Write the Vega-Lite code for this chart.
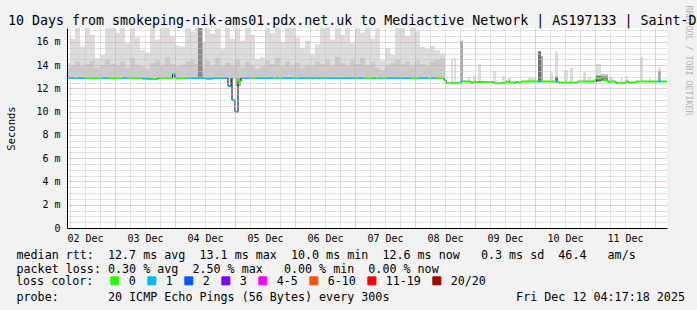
{
  "$schema": "https://vega.github.io/schema/vega-lite/v6.json",
  "width": 600,
  "height": 200,
  "autosize": "none",
  "padding": {"left": 67, "top": 28, "right": 30, "bottom": 82},
  "background": "#f2f2f2",
  "config": {
    "view": {"fill": "#ffffff", "stroke": null},
    "font": "DejaVu Sans Mono",
    "axis": {"domainColor": "#000000", "domainWidth": 1, "labelOverlap": false, "labelBound": false, "labelFlush": false, "ticks": false, "gridDash": [1, 1]}
  },
  "title": {
    "text": "10 Days from smokeping-nik-ams01.pdx.net.uk to Mediactive Network | AS197133 | Saint-Denis",
    "anchor": "start", "frame": "group", "dx": -59, "dy": 37, "offset": 4, "baseline": "alphabetic",
    "font": "DejaVu Sans Mono", "fontSize": 13.3, "fontWeight": "normal", "color": "#000000"
  },
  "datasets": {
    "smoke": [
      {"t":"2025-12-02T04:48:00Z","t2":"2025-12-02T06:00:00Z","h":14.2,"m":13.7},
      {"t":"2025-12-02T06:00:00Z","t2":"2025-12-02T08:00:00Z","h":16.3,"m":14.0},
      {"t":"2025-12-02T08:00:00Z","t2":"2025-12-02T10:00:00Z","h":17.2,"m":14.3},
      {"t":"2025-12-02T10:00:00Z","t2":"2025-12-02T12:00:00Z","h":15.6,"m":13.9},
      {"t":"2025-12-02T12:00:00Z","t2":"2025-12-02T14:00:00Z","h":17.2,"m":14.1},
      {"t":"2025-12-02T14:00:00Z","t2":"2025-12-02T16:00:00Z","h":16.6,"m":14.4},
      {"t":"2025-12-02T16:00:00Z","t2":"2025-12-02T18:00:00Z","h":14.6,"m":13.8},
      {"t":"2025-12-02T18:00:00Z","t2":"2025-12-02T20:00:00Z","h":14.9,"m":14.0},
      {"t":"2025-12-02T20:00:00Z","t2":"2025-12-02T22:00:00Z","h":17.2,"m":14.5},
      {"t":"2025-12-02T22:00:00Z","t2":"2025-12-03T00:00:00Z","h":17.2,"m":14.1},
      {"t":"2025-12-03T00:00:00Z","t2":"2025-12-03T02:00:00Z","h":16.8,"m":14.0},
      {"t":"2025-12-03T02:00:00Z","t2":"2025-12-03T04:00:00Z","h":17.2,"m":14.3},
      {"t":"2025-12-03T04:00:00Z","t2":"2025-12-03T06:00:00Z","h":15.9,"m":13.8},
      {"t":"2025-12-03T06:00:00Z","t2":"2025-12-03T08:00:00Z","h":17.2,"m":14.6},
      {"t":"2025-12-03T08:00:00Z","t2":"2025-12-03T10:00:00Z","h":16.4,"m":14.0},
      {"t":"2025-12-03T10:00:00Z","t2":"2025-12-03T12:00:00Z","h":15.3,"m":13.9},
      {"t":"2025-12-03T12:00:00Z","t2":"2025-12-03T14:00:00Z","h":15.1,"m":13.7},
      {"t":"2025-12-03T14:00:00Z","t2":"2025-12-03T16:00:00Z","h":17.2,"m":14.2},
      {"t":"2025-12-03T16:00:00Z","t2":"2025-12-03T18:00:00Z","h":16.2,"m":14.4},
      {"t":"2025-12-03T18:00:00Z","t2":"2025-12-03T20:00:00Z","h":17.2,"m":14.0},
      {"t":"2025-12-03T20:00:00Z","t2":"2025-12-03T22:00:00Z","h":17.2,"m":14.7},
      {"t":"2025-12-03T22:00:00Z","t2":"2025-12-04T00:00:00Z","h":16.5,"m":14.1},
      {"t":"2025-12-04T00:00:00Z","t2":"2025-12-04T02:00:00Z","h":15.7,"m":13.9},
      {"t":"2025-12-04T02:00:00Z","t2":"2025-12-04T04:00:00Z","h":15.6,"m":14.0},
      {"t":"2025-12-04T04:00:00Z","t2":"2025-12-04T06:00:00Z","h":17.2,"m":14.3},
      {"t":"2025-12-04T06:00:00Z","t2":"2025-12-04T08:00:00Z","h":16.9,"m":14.5},
      {"t":"2025-12-04T08:00:00Z","t2":"2025-12-04T10:00:00Z","h":17.2,"m":14.1},
      {"t":"2025-12-04T10:00:00Z","t2":"2025-12-04T12:00:00Z","h":16.0,"m":13.8},
      {"t":"2025-12-04T12:00:00Z","t2":"2025-12-04T14:00:00Z","h":17.2,"m":14.4},
      {"t":"2025-12-04T14:00:00Z","t2":"2025-12-04T16:00:00Z","h":16.7,"m":14.0},
      {"t":"2025-12-04T16:00:00Z","t2":"2025-12-04T18:00:00Z","h":17.2,"m":14.6},
      {"t":"2025-12-04T18:00:00Z","t2":"2025-12-04T20:00:00Z","h":15.4,"m":13.9},
      {"t":"2025-12-04T20:00:00Z","t2":"2025-12-04T22:00:00Z","h":17.2,"m":14.2},
      {"t":"2025-12-04T22:00:00Z","t2":"2025-12-05T00:00:00Z","h":16.3,"m":14.0},
      {"t":"2025-12-05T00:00:00Z","t2":"2025-12-05T02:00:00Z","h":17.2,"m":14.5},
      {"t":"2025-12-05T02:00:00Z","t2":"2025-12-05T04:00:00Z","h":16.1,"m":13.8},
      {"t":"2025-12-05T04:00:00Z","t2":"2025-12-05T06:00:00Z","h":17.2,"m":14.3},
      {"t":"2025-12-05T06:00:00Z","t2":"2025-12-05T08:00:00Z","h":16.6,"m":14.0},
      {"t":"2025-12-05T08:00:00Z","t2":"2025-12-05T10:00:00Z","h":14.5,"m":13.7},
      {"t":"2025-12-05T10:00:00Z","t2":"2025-12-05T12:00:00Z","h":14.7,"m":13.9},
      {"t":"2025-12-05T12:00:00Z","t2":"2025-12-05T14:00:00Z","h":17.2,"m":14.4},
      {"t":"2025-12-05T14:00:00Z","t2":"2025-12-05T16:00:00Z","h":16.8,"m":14.1},
      {"t":"2025-12-05T16:00:00Z","t2":"2025-12-05T18:00:00Z","h":17.2,"m":14.6},
      {"t":"2025-12-05T18:00:00Z","t2":"2025-12-05T20:00:00Z","h":16.0,"m":13.9},
      {"t":"2025-12-05T20:00:00Z","t2":"2025-12-05T22:00:00Z","h":17.2,"m":14.3},
      {"t":"2025-12-05T22:00:00Z","t2":"2025-12-06T00:00:00Z","h":17.2,"m":14.0},
      {"t":"2025-12-06T00:00:00Z","t2":"2025-12-06T02:00:00Z","h":16.4,"m":14.2},
      {"t":"2025-12-06T02:00:00Z","t2":"2025-12-06T04:00:00Z","h":15.5,"m":13.8},
      {"t":"2025-12-06T04:00:00Z","t2":"2025-12-06T06:00:00Z","h":16.1,"m":14.0},
      {"t":"2025-12-06T06:00:00Z","t2":"2025-12-06T08:00:00Z","h":15.0,"m":13.9},
      {"t":"2025-12-06T08:00:00Z","t2":"2025-12-06T10:00:00Z","h":15.8,"m":14.3},
      {"t":"2025-12-06T10:00:00Z","t2":"2025-12-06T12:00:00Z","h":17.2,"m":14.1},
      {"t":"2025-12-06T12:00:00Z","t2":"2025-12-06T14:00:00Z","h":17.2,"m":14.5},
      {"t":"2025-12-06T14:00:00Z","t2":"2025-12-06T16:00:00Z","h":16.2,"m":14.0},
      {"t":"2025-12-06T16:00:00Z","t2":"2025-12-06T18:00:00Z","h":17.2,"m":14.7},
      {"t":"2025-12-06T18:00:00Z","t2":"2025-12-06T20:00:00Z","h":16.6,"m":14.2},
      {"t":"2025-12-06T20:00:00Z","t2":"2025-12-06T22:00:00Z","h":17.2,"m":13.9},
      {"t":"2025-12-06T22:00:00Z","t2":"2025-12-07T00:00:00Z","h":15.9,"m":14.4},
      {"t":"2025-12-07T00:00:00Z","t2":"2025-12-07T02:00:00Z","h":17.2,"m":14.1},
      {"t":"2025-12-07T02:00:00Z","t2":"2025-12-07T04:00:00Z","h":16.8,"m":14.6},
      {"t":"2025-12-07T04:00:00Z","t2":"2025-12-07T06:00:00Z","h":17.2,"m":14.0},
      {"t":"2025-12-07T06:00:00Z","t2":"2025-12-07T08:00:00Z","h":16.3,"m":14.3},
      {"t":"2025-12-07T08:00:00Z","t2":"2025-12-07T10:00:00Z","h":17.2,"m":13.8},
      {"t":"2025-12-07T10:00:00Z","t2":"2025-12-07T12:00:00Z","h":14.4,"m":13.6},
      {"t":"2025-12-07T12:00:00Z","t2":"2025-12-07T14:00:00Z","h":15.5,"m":14.0},
      {"t":"2025-12-07T14:00:00Z","t2":"2025-12-07T16:00:00Z","h":14.9,"m":14.2},
      {"t":"2025-12-07T16:00:00Z","t2":"2025-12-07T18:00:00Z","h":17.2,"m":14.5},
      {"t":"2025-12-07T18:00:00Z","t2":"2025-12-07T20:00:00Z","h":17.2,"m":14.1},
      {"t":"2025-12-07T20:00:00Z","t2":"2025-12-07T22:00:00Z","h":16.5,"m":14.3},
      {"t":"2025-12-07T22:00:00Z","t2":"2025-12-08T00:00:00Z","h":17.2,"m":14.0},
      {"t":"2025-12-08T00:00:00Z","t2":"2025-12-08T02:00:00Z","h":16.9,"m":14.4},
      {"t":"2025-12-08T02:00:00Z","t2":"2025-12-08T04:00:00Z","h":15.6,"m":14.1},
      {"t":"2025-12-08T04:00:00Z","t2":"2025-12-08T06:00:00Z","h":15.4,"m":14.0},
      {"t":"2025-12-08T06:00:00Z","t2":"2025-12-08T08:00:00Z","h":15.7,"m":14.3},
      {"t":"2025-12-08T08:00:00Z","t2":"2025-12-08T10:00:00Z","h":15.3,"m":14.5},
      {"t":"2025-12-08T10:00:00Z","t2":"2025-12-08T12:00:00Z","h":15.0,"m":14.6}
    ],
    "extra": [
      {"t":"2025-12-04T09:12:00Z","t2":"2025-12-04T11:00:00Z","lo":12.9,"hi":17.2,"s":"d2"},
      {"t":"2025-12-05T00:24:00Z","t2":"2025-12-05T02:24:00Z","lo":12.2,"hi":12.9,"s":"d1"},
      {"t":"2025-12-08T14:24:00Z","t2":"2025-12-08T15:12:00Z","lo":12.5,"hi":14.6,"s":"light"},
      {"t":"2025-12-08T15:36:00Z","t2":"2025-12-08T16:24:00Z","lo":12.5,"hi":14.6,"s":"light"},
      {"t":"2025-12-08T18:00:00Z","t2":"2025-12-08T19:12:00Z","lo":12.55,"hi":16.1,"s":"d1"},
      {"t":"2025-12-08T21:12:00Z","t2":"2025-12-08T22:00:00Z","lo":12.5,"hi":13.0,"s":"light"},
      {"t":"2025-12-08T23:12:00Z","t2":"2025-12-09T00:24:00Z","lo":12.5,"hi":13.1,"s":"light"},
      {"t":"2025-12-09T01:12:00Z","t2":"2025-12-09T02:24:00Z","lo":12.5,"hi":14.1,"s":"light"},
      {"t":"2025-12-09T07:12:00Z","t2":"2025-12-09T08:24:00Z","lo":12.45,"hi":13.5,"s":"light"},
      {"t":"2025-12-09T10:48:00Z","t2":"2025-12-09T12:00:00Z","lo":12.45,"hi":13.1,"s":"light"},
      {"t":"2025-12-09T13:12:00Z","t2":"2025-12-09T14:24:00Z","lo":12.5,"hi":12.9,"s":"light"},
      {"t":"2025-12-09T21:12:00Z","t2":"2025-12-10T00:24:00Z","lo":12.55,"hi":12.9,"s":"light"},
      {"t":"2025-12-10T01:12:00Z","t2":"2025-12-10T02:24:00Z","lo":12.6,"hi":15.2,"s":"d3"},
      {"t":"2025-12-10T02:24:00Z","t2":"2025-12-10T03:12:00Z","lo":12.6,"hi":14.8,"s":"d1"},
      {"t":"2025-12-10T06:00:00Z","t2":"2025-12-10T07:12:00Z","lo":12.6,"hi":13.4,"s":"light"},
      {"t":"2025-12-10T08:00:00Z","t2":"2025-12-10T09:12:00Z","lo":12.6,"hi":15.2,"s":"light"},
      {"t":"2025-12-10T08:00:00Z","t2":"2025-12-10T09:12:00Z","lo":12.55,"hi":13.0,"s":"d3"},
      {"t":"2025-12-10T11:36:00Z","t2":"2025-12-10T13:12:00Z","lo":12.5,"hi":13.6,"s":"light"},
      {"t":"2025-12-10T14:00:00Z","t2":"2025-12-10T15:12:00Z","lo":12.5,"hi":13.8,"s":"light"},
      {"t":"2025-12-10T19:12:00Z","t2":"2025-12-10T20:24:00Z","lo":12.6,"hi":13.4,"s":"light"},
      {"t":"2025-12-10T21:12:00Z","t2":"2025-12-10T22:24:00Z","lo":12.6,"hi":13.0,"s":"light"},
      {"t":"2025-12-11T00:24:00Z","t2":"2025-12-11T02:24:00Z","lo":12.6,"hi":14.1,"s":"light"},
      {"t":"2025-12-11T00:24:00Z","t2":"2025-12-11T02:24:00Z","lo":12.6,"hi":13.1,"s":"d3"},
      {"t":"2025-12-11T02:24:00Z","t2":"2025-12-11T05:12:00Z","lo":12.65,"hi":13.25,"s":"mid"},
      {"t":"2025-12-11T02:24:00Z","t2":"2025-12-11T05:12:00Z","lo":12.65,"hi":13.05,"s":"d2"},
      {"t":"2025-12-11T05:36:00Z","t2":"2025-12-11T07:12:00Z","lo":12.5,"hi":13.0,"s":"light"},
      {"t":"2025-12-11T10:24:00Z","t2":"2025-12-11T11:12:00Z","lo":12.45,"hi":12.9,"s":"light"},
      {"t":"2025-12-11T12:24:00Z","t2":"2025-12-11T13:12:00Z","lo":12.5,"hi":13.1,"s":"light"},
      {"t":"2025-12-11T18:00:00Z","t2":"2025-12-11T19:12:00Z","lo":12.6,"hi":14.7,"s":"light"},
      {"t":"2025-12-11T21:36:00Z","t2":"2025-12-11T22:24:00Z","lo":12.6,"hi":12.9,"s":"light"},
      {"t":"2025-12-12T01:12:00Z","t2":"2025-12-12T02:24:00Z","lo":12.6,"hi":13.8,"s":"light"},
      {"t":"2025-12-12T01:12:00Z","t2":"2025-12-12T02:24:00Z","lo":12.6,"hi":13.5,"s":"d1"}
    ],
    "median": [
      {"t":"2025-12-02T04:48:00Z","t2":"2025-12-02T08:00:00Z","v":12.9,"loss":"1"},
      {"t":"2025-12-02T08:00:00Z","t2":"2025-12-02T09:00:00Z","v":12.9,"loss":"0"},
      {"t":"2025-12-02T09:00:00Z","t2":"2025-12-02T12:00:00Z","v":12.9,"loss":"1"},
      {"t":"2025-12-02T12:00:00Z","t2":"2025-12-02T19:00:00Z","v":12.9,"loss":"0"},
      {"t":"2025-12-02T19:00:00Z","t2":"2025-12-02T21:00:00Z","v":12.9,"loss":"1"},
      {"t":"2025-12-02T21:00:00Z","t2":"2025-12-03T03:00:00Z","v":12.9,"loss":"0"},
      {"t":"2025-12-03T03:00:00Z","t2":"2025-12-03T05:00:00Z","v":12.9,"loss":"1"},
      {"t":"2025-12-03T05:00:00Z","t2":"2025-12-03T11:00:00Z","v":12.9,"loss":"0"},
      {"t":"2025-12-03T11:00:00Z","t2":"2025-12-03T14:00:00Z","v":12.85,"loss":"1"},
      {"t":"2025-12-03T14:00:00Z","t2":"2025-12-03T17:00:00Z","v":12.8,"loss":"0"},
      {"t":"2025-12-03T17:00:00Z","t2":"2025-12-03T23:00:00Z","v":12.9,"loss":"0"},
      {"t":"2025-12-03T23:00:00Z","t2":"2025-12-04T00:00:00Z","v":13.2,"loss":"1"},
      {"t":"2025-12-04T00:00:00Z","t2":"2025-12-04T05:00:00Z","v":12.9,"loss":"0"},
      {"t":"2025-12-04T05:00:00Z","t2":"2025-12-04T12:00:00Z","v":12.9,"loss":"1"},
      {"t":"2025-12-04T12:00:00Z","t2":"2025-12-04T15:00:00Z","v":12.85,"loss":"1"},
      {"t":"2025-12-04T15:00:00Z","t2":"2025-12-04T21:12:00Z","v":12.9,"loss":"1"},
      {"t":"2025-12-04T21:12:00Z","t2":"2025-12-04T22:24:00Z","v":12.2,"loss":"1"},
      {"t":"2025-12-04T22:24:00Z","t2":"2025-12-04T22:48:00Z","v":12.9,"loss":"1"},
      {"t":"2025-12-04T22:48:00Z","t2":"2025-12-05T00:00:00Z","v":11.0,"loss":"1"},
      {"t":"2025-12-05T00:00:00Z","t2":"2025-12-05T01:12:00Z","v":10.0,"loss":"1"},
      {"t":"2025-12-05T01:12:00Z","t2":"2025-12-05T02:24:00Z","v":12.6,"loss":"0"},
      {"t":"2025-12-05T02:24:00Z","t2":"2025-12-05T06:24:00Z","v":12.9,"loss":"1"},
      {"t":"2025-12-05T06:24:00Z","t2":"2025-12-05T08:24:00Z","v":12.9,"loss":"0"},
      {"t":"2025-12-05T08:24:00Z","t2":"2025-12-05T15:12:00Z","v":12.9,"loss":"1"},
      {"t":"2025-12-05T15:12:00Z","t2":"2025-12-05T16:24:00Z","v":12.9,"loss":"0"},
      {"t":"2025-12-05T16:24:00Z","t2":"2025-12-05T17:12:00Z","v":12.9,"loss":"1"},
      {"t":"2025-12-05T17:12:00Z","t2":"2025-12-05T18:24:00Z","v":12.9,"loss":"0"},
      {"t":"2025-12-05T18:24:00Z","t2":"2025-12-06T00:24:00Z","v":12.9,"loss":"1"},
      {"t":"2025-12-06T00:24:00Z","t2":"2025-12-06T01:00:00Z","v":12.9,"loss":"0"},
      {"t":"2025-12-06T01:00:00Z","t2":"2025-12-06T04:24:00Z","v":12.9,"loss":"1"},
      {"t":"2025-12-06T04:24:00Z","t2":"2025-12-06T05:00:00Z","v":12.9,"loss":"0"},
      {"t":"2025-12-06T05:00:00Z","t2":"2025-12-06T07:36:00Z","v":12.9,"loss":"1"},
      {"t":"2025-12-06T07:36:00Z","t2":"2025-12-06T08:12:00Z","v":12.9,"loss":"0"},
      {"t":"2025-12-06T08:12:00Z","t2":"2025-12-06T10:48:00Z","v":12.9,"loss":"1"},
      {"t":"2025-12-06T10:48:00Z","t2":"2025-12-06T11:24:00Z","v":12.9,"loss":"0"},
      {"t":"2025-12-06T11:24:00Z","t2":"2025-12-07T00:24:00Z","v":12.9,"loss":"1"},
      {"t":"2025-12-07T00:24:00Z","t2":"2025-12-07T01:00:00Z","v":12.9,"loss":"0"},
      {"t":"2025-12-07T01:00:00Z","t2":"2025-12-07T03:12:00Z","v":12.9,"loss":"1"},
      {"t":"2025-12-07T03:12:00Z","t2":"2025-12-07T07:12:00Z","v":12.9,"loss":"0"},
      {"t":"2025-12-07T07:12:00Z","t2":"2025-12-07T08:24:00Z","v":12.9,"loss":"1"},
      {"t":"2025-12-07T08:24:00Z","t2":"2025-12-07T09:36:00Z","v":12.9,"loss":"0"},
      {"t":"2025-12-07T09:36:00Z","t2":"2025-12-07T10:24:00Z","v":12.9,"loss":"1"},
      {"t":"2025-12-07T10:24:00Z","t2":"2025-12-07T12:24:00Z","v":12.9,"loss":"0"},
      {"t":"2025-12-07T12:24:00Z","t2":"2025-12-07T22:24:00Z","v":12.9,"loss":"1"},
      {"t":"2025-12-07T22:24:00Z","t2":"2025-12-08T01:12:00Z","v":12.9,"loss":"0"},
      {"t":"2025-12-08T01:12:00Z","t2":"2025-12-08T05:12:00Z","v":12.9,"loss":"1"},
      {"t":"2025-12-08T05:12:00Z","t2":"2025-12-08T06:24:00Z","v":12.9,"loss":"0"},
      {"t":"2025-12-08T06:24:00Z","t2":"2025-12-08T08:24:00Z","v":12.9,"loss":"1"},
      {"t":"2025-12-08T08:24:00Z","t2":"2025-12-08T11:12:00Z","v":12.9,"loss":"0"},
      {"t":"2025-12-08T11:12:00Z","t2":"2025-12-08T11:48:00Z","v":12.8,"loss":"0"},
      {"t":"2025-12-08T11:48:00Z","t2":"2025-12-08T12:24:00Z","v":12.7,"loss":"0"},
      {"t":"2025-12-08T12:24:00Z","t2":"2025-12-08T18:24:00Z","v":12.45,"loss":"0"},
      {"t":"2025-12-08T18:24:00Z","t2":"2025-12-08T19:12:00Z","v":12.6,"loss":"1"},
      {"t":"2025-12-08T19:12:00Z","t2":"2025-12-08T22:24:00Z","v":12.6,"loss":"0"},
      {"t":"2025-12-08T22:24:00Z","t2":"2025-12-08T23:12:00Z","v":12.45,"loss":"0"},
      {"t":"2025-12-08T23:12:00Z","t2":"2025-12-09T07:36:00Z","v":12.55,"loss":"0"},
      {"t":"2025-12-09T07:36:00Z","t2":"2025-12-09T12:24:00Z","v":12.45,"loss":"0"},
      {"t":"2025-12-09T12:24:00Z","t2":"2025-12-09T13:43:00Z","v":12.6,"loss":"0"},
      {"t":"2025-12-09T13:43:00Z","t2":"2025-12-09T16:24:00Z","v":12.5,"loss":"0"},
      {"t":"2025-12-09T16:24:00Z","t2":"2025-12-09T17:36:00Z","v":12.55,"loss":"0"},
      {"t":"2025-12-09T17:36:00Z","t2":"2025-12-09T18:24:00Z","v":12.45,"loss":"0"},
      {"t":"2025-12-09T18:24:00Z","t2":"2025-12-10T01:12:00Z","v":12.6,"loss":"0"},
      {"t":"2025-12-10T01:12:00Z","t2":"2025-12-10T02:24:00Z","v":12.6,"loss":"1"},
      {"t":"2025-12-10T02:24:00Z","t2":"2025-12-10T08:24:00Z","v":12.6,"loss":"0"},
      {"t":"2025-12-10T08:24:00Z","t2":"2025-12-10T09:12:00Z","v":12.6,"loss":"1"},
      {"t":"2025-12-10T09:12:00Z","t2":"2025-12-10T17:12:00Z","v":12.5,"loss":"0"},
      {"t":"2025-12-10T17:12:00Z","t2":"2025-12-11T00:24:00Z","v":12.6,"loss":"0"},
      {"t":"2025-12-11T00:24:00Z","t2":"2025-12-11T02:48:00Z","v":12.85,"loss":"0"},
      {"t":"2025-12-11T02:48:00Z","t2":"2025-12-11T05:12:00Z","v":12.7,"loss":"0"},
      {"t":"2025-12-11T05:12:00Z","t2":"2025-12-11T06:24:00Z","v":12.55,"loss":"0"},
      {"t":"2025-12-11T06:24:00Z","t2":"2025-12-11T08:24:00Z","v":12.6,"loss":"0"},
      {"t":"2025-12-11T08:24:00Z","t2":"2025-12-11T12:24:00Z","v":12.45,"loss":"0"},
      {"t":"2025-12-11T12:24:00Z","t2":"2025-12-11T13:36:00Z","v":12.6,"loss":"0"},
      {"t":"2025-12-11T13:36:00Z","t2":"2025-12-11T14:24:00Z","v":12.45,"loss":"0"},
      {"t":"2025-12-11T14:24:00Z","t2":"2025-12-11T16:24:00Z","v":12.5,"loss":"0"},
      {"t":"2025-12-11T16:24:00Z","t2":"2025-12-12T01:12:00Z","v":12.6,"loss":"0"},
      {"t":"2025-12-12T01:12:00Z","t2":"2025-12-12T02:24:00Z","v":12.6,"loss":"1"},
      {"t":"2025-12-12T02:24:00Z","t2":"2025-12-12T04:48:00Z","v":12.6,"loss":"0"}
    ]
  },
  "resolve": {"axis": {"y": "independent"}},
  "layer": [
    {
      "data": {"name": "smoke"},
      "mark": {"type": "rect", "fill": "#dddddd"},
      "encoding": {
        "x": {
          "field": "t", "type": "temporal",
          "scale": {"type": "utc", "nice": false, "domain": [1764650880000, 1765514880000]},
          "axis": {
            "values": [1764655200000,1764676800000,1764698400000,1764720000000,1764741600000,1764763200000,1764784800000,1764806400000,1764828000000,1764849600000,1764871200000,1764892800000,1764914400000,1764936000000,1764957600000,1764979200000,1765000800000,1765022400000,1765044000000,1765065600000,1765087200000,1765108800000,1765130400000,1765152000000,1765173600000,1765195200000,1765216800000,1765238400000,1765260000000,1765281600000,1765303200000,1765324800000,1765346400000,1765368000000,1765389600000,1765411200000,1765432800000,1765454400000,1765476000000,1765497600000],
            "tickCount": 200,
            "labelExpr": "utchours(datum.value) === 12 ? utcFormat(datum.value, '%d %b') : ''",
            "gridColor": {"condition": {"test": "utchours(datum.value) === 0", "value": "#e49a9a"}, "value": "#c4c4c4"},
            "gridDash": [1, 1],
            "ticks": false,
            "domain": true, "domainColor": "#000000",
            "labelPadding": 5,
            "labelFont": "DejaVu Sans Mono", "labelFontSize": 10, "labelColor": "#000000",
            "labelOverlap": false, "labelFlush": false, "labelBound": false,
            "zindex": 1,
            "title": [
              "median\u00a0rtt:\u00a0\u00a012.7\u00a0ms\u00a0avg\u00a0\u00a013.1\u00a0ms\u00a0max\u00a0\u00a010.0\u00a0ms\u00a0min\u00a0\u00a012.6\u00a0ms\u00a0now\u00a0\u00a0\u00a00.3\u00a0ms\u00a0sd\u00a0\u00a046.4\u00a0\u00a0\u00a0am/s",
              "packet\u00a0loss:\u00a00.30\u00a0%\u00a0avg\u00a0\u00a02.50\u00a0%\u00a0max\u00a0\u00a0\u00a00.00\u00a0%\u00a0min\u00a0\u00a00.00\u00a0%\u00a0now",
              "\u200b",
              "probe:\u00a0\u00a0\u00a0\u00a0\u00a0\u00a0\u00a020\u00a0ICMP\u00a0Echo\u00a0Pings\u00a0(56\u00a0Bytes)\u00a0every\u00a0300s\u00a0\u00a0\u00a0\u00a0\u00a0\u00a0\u00a0\u00a0\u00a0\u00a0\u00a0\u00a0\u00a0\u00a0\u00a0\u00a0\u00a0\u00a0Fri\u00a0Dec\u00a012\u00a004:17:18\u00a02025"
            ],
            "titleFont": "DejaVu Sans Mono", "titleFontSize": 11.7, "titleFontWeight": "normal", "titleColor": "#000000",
            "titleAlign": "left", "titleAnchor": "start", "titleBaseline": "alphabetic",
            "titleX": -51, "titleY": 30, "titleLineHeight": 14
          }
        },
        "x2": {"field": "t2"},
        "y": {
          "field": "h", "type": "quantitative",
          "scale": {"domain": [0, 17.2], "nice": false, "zero": true},
          "axis": {
            "values": [0,0.5,1,1.5,2,2.5,3,3.5,4,4.5,5,5.5,6,6.5,7,7.5,8,8.5,9,9.5,10,10.5,11,11.5,12,12.5,13,13.5,14,14.5,15,15.5,16,16.5,17],
            "tickCount": 200,
            "labelExpr": "datum.value % 2 === 0 ? (datum.value === 0 ? '0\u00a0\u00a0' : datum.value + '\u00a0m') : ''",
            "gridColor": {"condition": {"test": "datum.value % 2 === 0", "value": "#e49a9a"}, "value": "#c4c4c4"},
            "gridDash": [1, 1],
            "ticks": false,
            "domain": true, "domainColor": "#000000",
            "labelPadding": 7,
            "labelFont": "DejaVu Sans Mono", "labelFontSize": 10, "labelColor": "#000000",
            "labelOverlap": false, "labelFlush": false, "labelBound": false,
            "zindex": 1,
            "title": "Seconds",
            "titleFont": "DejaVu Sans Mono", "titleFontSize": 10.5, "titleFontWeight": "normal", "titleColor": "#000000",
            "titleAngle": -90, "titleAlign": "center", "titleBaseline": "middle",
            "titleX": -56, "titleY": 100
          }
        },
        "y2": {"datum": 12.85}
      }
    },
    {
      "data": {"name": "smoke"},
      "mark": {"type": "rect", "fill": "#cacaca"},
      "encoding": {
        "x": {"field": "t", "type": "temporal"},
        "x2": {"field": "t2"},
        "y": {"field": "m", "type": "quantitative", "axis": null},
        "y2": {"datum": 12.85}
      }
    },
    {
      "data": {"name": "extra"},
      "mark": {"type": "rect"},
      "encoding": {
        "x": {"field": "t", "type": "temporal"},
        "x2": {"field": "t2"},
        "y": {"field": "hi", "type": "quantitative", "axis": null},
        "y2": {"field": "lo"},
        "fill": {"field": "s", "type": "nominal", "legend": null,
          "scale": {"domain": ["light", "mid", "d1", "d2", "d3"], "range": ["#dddddd", "#c4c4c4", "#aaaaaa", "#8a8a8a", "#6e6e6e"]}}
      }
    },
    {
      "data": {"name": "median"},
      "mark": {"type": "line", "interpolate": "step-after", "color": "#000000", "strokeWidth": 1},
      "encoding": {
        "x": {"field": "t", "type": "temporal"},
        "y": {"field": "v", "type": "quantitative",
          "axis": {"orient": "right", "title": "RRDTOOL / TOBI OETIKER", "labels": false, "ticks": false, "domain": false, "grid": false,
            "titleAngle": 90, "titleX": 20, "titleY": 32, "titleAlign": "center", "titleBaseline": "middle",
            "titleFont": "DejaVu Sans Mono", "titleFontSize": 8.3, "titleFontWeight": "normal", "titleColor": "#b4b4b4"}}
      }
    },
    {
      "data": {"name": "median"},
      "mark": {"type": "rule", "strokeWidth": 2},
      "encoding": {
        "x": {"field": "t", "type": "temporal"},
        "x2": {"field": "t2"},
        "y": {"field": "v", "type": "quantitative", "axis": null},
        "stroke": {
          "field": "loss", "type": "nominal",
          "scale": {"domain": ["0", "1", "2", "3", "4-5", "6-10", "11-19", "20/20"],
            "range": ["#26ff00", "#00b8ff", "#0059ff", "#7e00ff", "#ff00ff", "#ff5500", "#ff0000", "#a10000"]},
          "legend": {
            "orient": "none", "legendX": -51, "legendY": 247, "direction": "horizontal", "gridAlign": "none",
            "title": "loss color:", "titleOrient": "left", "titlePadding": 15,
            "titleFont": "DejaVu Sans Mono", "titleFontSize": 11.7, "titleFontWeight": "normal", "titleColor": "#000000",
            "labelFont": "DejaVu Sans Mono", "labelFontSize": 11.7, "labelColor": "#000000", "labelOffset": 8,
            "symbolType": "square", "symbolSize": 64, "symbolStrokeWidth": 1, "columnPadding": 9, "padding": 0,
            "encode": {"symbols": {"update": {"fill": {"scale": "stroke", "field": "value"}, "stroke": {"value": "#000000"}}}}
          }
        }
      }
    }
  ]
}
